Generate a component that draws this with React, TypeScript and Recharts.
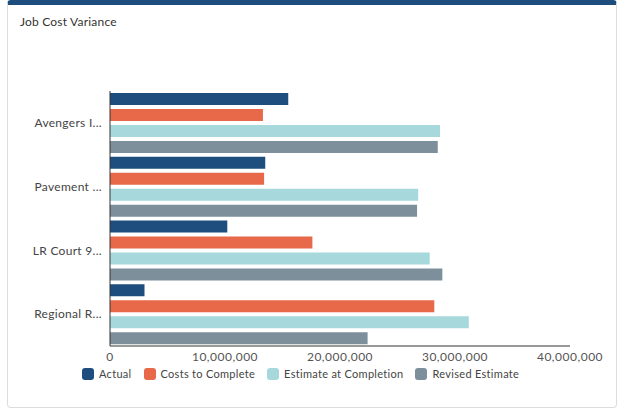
import React from 'react';
import { BarChart, Bar, XAxis, YAxis, Legend } from 'recharts';

// --- data ---
const jobs = ['Avengers I...', 'Pavement ...', 'LR Court 9...', 'Regional R...'];
const actual = [15500000, 13500000, 10200000, 3000000];
const costsToComplete = [13300000, 13400000, 17600000, 28200000];
const estimateAtCompletion = [28700000, 26800000, 27800000, 31200000];
const revisedEstimate = [28500000, 26700000, 28900000, 22400000];
const xTicks = [0, 10000000, 20000000, 30000000, 40000000];

const seriesNames = ['Actual', 'Costs to Complete', 'Estimate at Completion', 'Revised Estimate'];
const seriesColors = ['#1D4E7E', '#E8694A', '#A6D8DC', '#7C8F9B'];

const data = jobs.map((name, i) => ({
  name,
  actual: actual[i],
  ctc: costsToComplete[i],
  eac: estimateAtCompletion[i],
  rev: revisedEstimate[i],
}));

const keys = ['actual', 'ctc', 'eac', 'rev'];
const font = 'Lato, "Open Sans", sans-serif';

const LegendContent = () => (
  <div style={{ display: 'flex', alignItems: 'center', fontFamily: font, fontSize: 11, letterSpacing: 0.3, color: '#444' }}>
    {seriesNames.map((n, i) => (
      <div key={n} style={{ display: 'flex', alignItems: 'center', marginRight: 12 }}>
        <span style={{ width: 12, height: 12, borderRadius: 3, background: seriesColors[i], marginRight: 5, display: 'inline-block' }} />
        <span>{n}</span>
      </div>
    ))}
  </div>
);

export default function App() {
  return (
    <div style={{ position: 'absolute', left: 0, top: 0, width: 621, height: 414, background: '#fff' }}>
      <div
        style={{
          position: 'absolute', left: 7, top: 0, width: 608, height: 402,
          border: '1px solid #dcdcdc', borderTop: '5px solid #1D4E7E', borderRadius: 4,
          boxSizing: 'content-box',
        }}
      />
      <div style={{ position: 'absolute', left: 20, top: 14, fontFamily: font, fontSize: 12, letterSpacing: 0.2, color: '#333' }}>
        Job Cost Variance
      </div>
      <div style={{ position: 'absolute', left: 0, top: 0 }}>
        <BarChart
          width={621}
          height={414}
          data={data}
          layout="vertical"
          barSize={12}
          barGap={4}
          margin={{ top: 91, right: 51, bottom: 27, left: 0 }}
        >
          <XAxis
            type="number"
            domain={[0, 40000000]}
            ticks={xTicks}
            tickFormatter={(v: number) => v.toLocaleString('en-US')}
            tickLine={false}
            tickSize={0}
            tickMargin={6}
            height={21}
            stroke="#333"
            tick={{ fill: '#555', fontSize: 12, fontFamily: font, letterSpacing: 0.5 }}
          />
          <YAxis
            type="category"
            dataKey="name"
            width={110}
            tickLine={false}
            tickSize={0}
            tickMargin={8}
            stroke="#333"
            tick={{ fill: '#444', fontSize: 12, fontFamily: font, letterSpacing: 0.3 }}
          />
          {keys.map((k, i) => (
            <Bar key={k} dataKey={k} name={seriesNames[i]} fill={seriesColors[i]} isAnimationActive={false} />
          ))}
          <Legend
            verticalAlign="bottom"
            height={20}
            content={<LegendContent />}
            wrapperStyle={{ left: 82, bottom: 27, width: 'auto' }}
          />
        </BarChart>
      </div>
    </div>
  );
}
